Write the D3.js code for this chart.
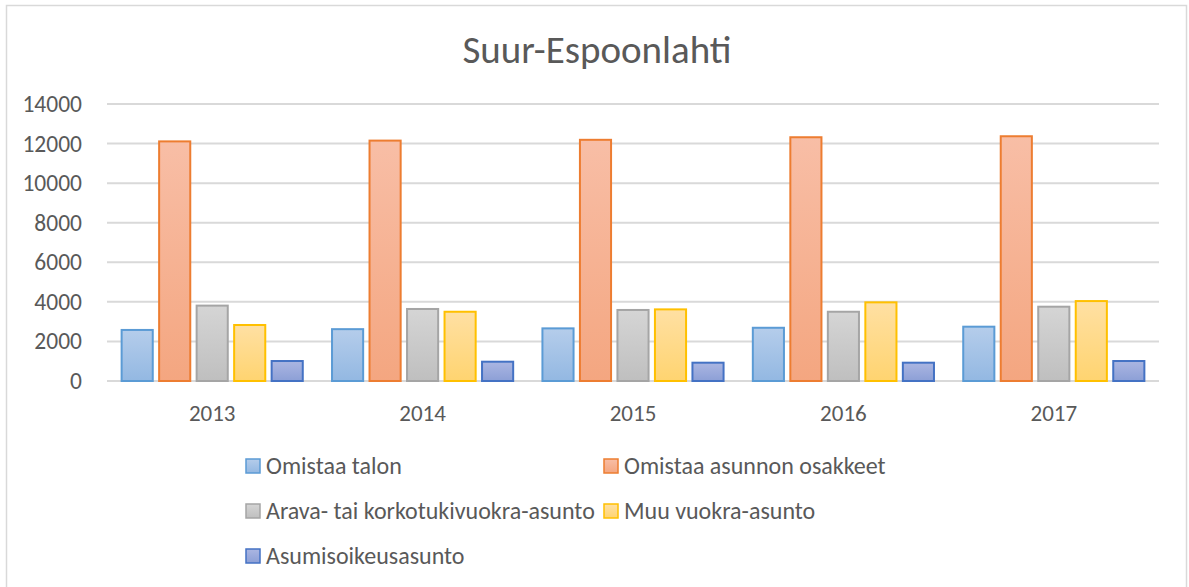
<!DOCTYPE html>
<html>
<head>
<meta charset="utf-8">
<script src="https://cdn.jsdelivr.net/npm/d3@7"></script>
<style>
  html, body { margin: 0; padding: 0; background: #fff; }
  svg text { font-family: Carlito, Lato, sans-serif; fill: #595959; }
</style>
</head>
<body>
<div id="chart"></div>
<script>
var years = ['2013', '2014', '2015', '2016', '2017'];
var seriesNames = ['Omistaa talon', 'Omistaa asunnon osakkeet', 'Arava- tai korkotukivuokra-asunto', 'Muu vuokra-asunto', 'Asumisoikeusasunto'];
var omistaaTalon = [2580, 2620, 2660, 2690, 2745];
var omistaaOsakkeet = [12110, 12150, 12190, 12320, 12370];
var aravaAsunto = [3810, 3640, 3590, 3500, 3755];
var muuVuokra = [2830, 3500, 3620, 3975, 4040];
var asumisoikeus = [1010, 975, 925, 925, 1010];
var yTicks = [0, 2000, 4000, 6000, 8000, 10000, 12000, 14000];

var W = 1189, H = 587;
var values = [omistaaTalon, omistaaOsakkeet, aravaAsunto, muuVuokra, asumisoikeus];
// top colour, bottom colour, border
var colors = [
  ['#b5cdeb', '#93b8e2', '#5b9bd5'],
  ['#f8bea6', '#f4a680', '#ed7d31'],
  ['#d5d5d5', '#bfbfbf', '#a5a5a5'],
  ['#ffe0a3', '#ffd470', '#ffc000'],
  ['#abb6e2', '#8c9fd6', '#4472c4']
];

var svg = d3.select('#chart').append('svg')
  .attr('width', W).attr('height', H);

var defs = svg.append('defs');
colors.forEach(function(c, i) {
  var g = defs.append('linearGradient').attr('id', 'grad' + i)
    .attr('x1', 0).attr('y1', 0).attr('x2', 0).attr('y2', 1);
  g.append('stop').attr('offset', '0%').attr('stop-color', c[0]);
  g.append('stop').attr('offset', '100%').attr('stop-color', c[1]);
});

// chart frame
svg.append('rect')
  .attr('x', 6.5).attr('y', 5.5).attr('width', 1180).attr('height', 600)
  .attr('fill', 'none').attr('stroke', '#d9d9d9').attr('stroke-width', 1.5);

svg.append('text')
  .attr('x', 597).attr('y', 63)
  .attr('text-anchor', 'middle')
  .style('font-size', '39px')
  .text('Suur-Espoonlahti');

var x = d3.scaleBand().domain(years).range([107, 1159]);
var xs = d3.scaleBand().domain(d3.range(5)).range([0, x.bandwidth()])
  .paddingInner(0.17).paddingOuter(0.39);
var y = d3.scaleLinear().domain([0, 14000]).range([381, 104]);

// gridlines
svg.append('g').selectAll('line').data(yTicks).enter().append('line')
  .attr('x1', 107).attr('x2', 1159)
  .attr('y1', function(d) { return y(d); })
  .attr('y2', function(d) { return y(d); })
  .attr('stroke', '#d9d9d9').attr('stroke-width', 2);

var yAxis = svg.append('g').attr('transform', 'translate(82,0)')
  .call(d3.axisLeft(y).tickValues(yTicks).tickSize(0).tickPadding(0).tickFormat(d3.format('d')));
yAxis.select('.domain').remove();
yAxis.selectAll('text').style('font-size', '23.5px').attr('fill', '#595959');

var xAxis = svg.append('g').attr('transform', 'translate(0,381)')
  .call(d3.axisBottom(x).tickSize(0).tickPadding(24));
xAxis.select('.domain').remove();
xAxis.selectAll('text').style('font-size', '23px').attr('fill', '#595959');

// bars
values.forEach(function(arr, si) {
  svg.append('g').selectAll('rect').data(arr).enter().append('rect')
    .attr('x', function(d, i) { return x(years[i]) + xs(si); })
    .attr('y', function(d) { return y(d); })
    .attr('width', xs.bandwidth())
    .attr('height', function(d) { return y(0) - y(d); })
    .attr('fill', 'url(#grad' + si + ')')
    .attr('stroke', colors[si][2])
    .attr('stroke-width', 2);
});

// legend
var legend = svg.append('g');
var item = legend.selectAll('g').data(seriesNames).enter().append('g')
  .attr('transform', function(d, i) {
    return 'translate(' + (246 + (i % 2) * 358) + ',' + (459 + Math.floor(i / 2) * 45) + ')';
  });
item.append('rect')
  .attr('width', 14).attr('height', 14)
  .attr('fill', function(d, i) { return 'url(#grad' + i + ')'; })
  .attr('stroke', function(d, i) { return colors[i][2]; })
  .attr('stroke-width', 1.5);
item.append('text')
  .attr('x', 20).attr('y', 7)
  .attr('dy', '0.35em')
  .style('font-size', '24px')
  .text(function(d) { return d; });
</script>
</body>
</html>
